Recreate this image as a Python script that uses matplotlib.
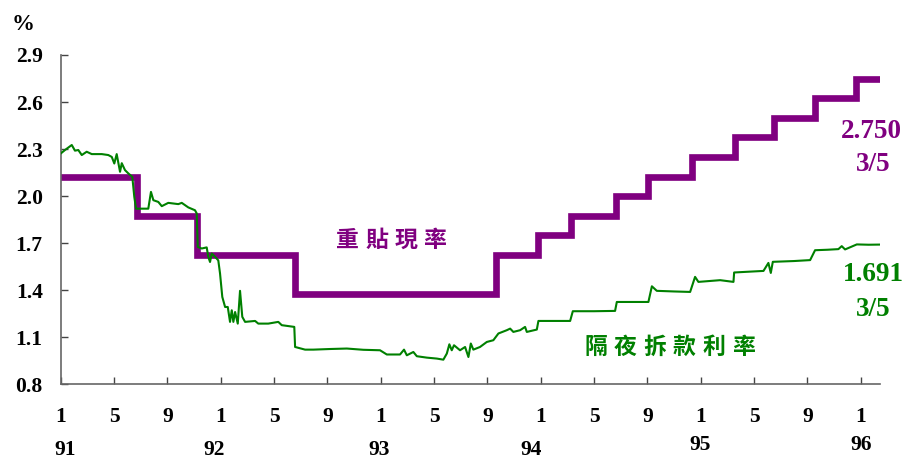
import numpy as np
import matplotlib
matplotlib.use("Agg")
import matplotlib.pyplot as plt
import matplotlib.transforms as mtransforms

# months counted from Jan 91 (ROC year)
disc_x = [0, 5.70, 10.19, 17.56, 32.68, 35.80, 38.31, 41.65, 44.05, 47.38, 50.55, 53.47, 56.55, 59.62, 61.45]
disc_y = [2.125, 1.875, 1.625, 1.375, 1.625, 1.75, 1.875, 2.0, 2.125, 2.25, 2.375, 2.5, 2.625, 2.75, 2.75]

ovn_x = [0.02, 0.32, 0.83, 1.07, 1.32, 1.58, 1.95, 2.33, 3.08, 3.57, 3.83, 4.02, 4.20, 4.45, 4.58,
         4.82, 5.07, 5.37, 5.52, 5.65, 6.08, 6.57, 6.77, 6.95, 7.32, 7.58, 8.07, 8.82, 9.08, 9.57,
         10.07, 10.20, 10.28, 10.58, 10.95, 11.07, 11.20, 11.33, 11.58, 11.82, 11.95, 12.12, 12.33,
         12.53, 12.70, 12.83, 12.95, 13.08, 13.28, 13.45, 13.62, 13.83, 14.58, 14.82, 15.57, 16.32,
         16.58, 17.52, 17.58, 18.33, 18.95, 20.2, 21.46, 22.7, 23.95, 24.46, 25.45, 25.75, 25.96,
         26.45, 26.71, 27.46, 28.21, 28.70, 28.96, 29.15, 29.33, 29.50, 29.95, 30.33, 30.58, 30.76,
         30.95, 31.45, 31.96, 32.45, 32.83, 33.46, 33.71, 33.95, 34.46, 34.83, 34.96, 35.71, 35.83,
         37.0, 38.21, 38.41, 40.0, 41.58, 41.71, 43.0, 44.08, 44.34, 44.71, 46.0, 47.21, 47.58,
         47.83, 49.46, 50.46, 50.51, 51.6, 52.71, 53.08, 53.26, 53.41, 55.0, 56.21, 56.58, 57.5,
         58.33, 58.58, 58.83, 59.71, 60.6, 61.45]
ovn_y = [2.273, 2.294, 2.326, 2.29, 2.294, 2.262, 2.283, 2.268, 2.268, 2.262, 2.25, 2.208, 2.268,
         2.155, 2.21, 2.166, 2.145, 2.123, 1.995, 1.92, 1.92, 1.92, 2.027, 1.974, 1.963, 1.936,
         1.957, 1.949, 1.957, 1.928, 1.91, 1.89, 1.676, 1.666, 1.673, 1.613, 1.58, 1.634, 1.613,
         1.59, 1.507, 1.357, 1.293, 1.293, 1.198, 1.272, 1.198, 1.261, 1.187, 1.396, 1.23, 1.198,
         1.204, 1.187, 1.187, 1.198, 1.177, 1.166, 1.038, 1.021, 1.021, 1.025, 1.028, 1.02, 1.017,
         0.99, 0.99, 1.021, 0.985, 1.006, 0.979, 0.97, 0.964, 0.957, 0.996, 1.055, 1.017, 1.049,
         1.017, 1.038, 0.974, 1.06, 1.021, 1.038, 1.07, 1.081, 1.124, 1.145, 1.155, 1.134, 1.145,
         1.166, 1.134, 1.149, 1.204, 1.204, 1.204, 1.266, 1.266, 1.268, 1.325, 1.325, 1.325, 1.425,
         1.396, 1.392, 1.389, 1.485, 1.453, 1.464, 1.453, 1.513, 1.518, 1.523, 1.574, 1.51, 1.581,
         1.586, 1.592, 1.655, 1.658, 1.662, 1.681, 1.66, 1.692, 1.69, 1.691]

tick_pos = list(range(0, 61, 4))
tick_lab = ['1', '5', '9'] * 5 + ['1']
year_lab = ['91', '92', '93', '94', '95', '96']
year_pos = [0.3, 11.48, 23.88, 35.27, 47.97, 60.0]   # labels sit a bit off the Jan ticks

purple = '#800080'
green = '#008000'
serif = ['Liberation Serif', 'DejaVu Serif']
cjk = ['Noto Sans CJK TC', 'DejaVu Sans']

fig = plt.figure(figsize=(9.06, 4.61), dpi=100)
ax = fig.add_axes([0.0670, 0.1664, 0.9043, 0.7143])

ax.step(disc_x, disc_y, where='post', color=purple, lw=4.8, solid_joinstyle='miter', zorder=2)
ax.plot(ovn_x, ovn_y, color=green, lw=1.5, zorder=3)

ax.set_xlim(0, 61.45)
ax.set_ylim(0.8, 2.9)
for s in ['top', 'right']:
    ax.spines[s].set_visible(False)
for s in ['left', 'bottom']:
    ax.spines[s].set_color('#666666')
    ax.spines[s].set_linewidth(1.2)

ax.set_yticks(np.arange(0.8, 2.91, 0.3))
ax.set_yticklabels(['%.1f' % v for v in np.arange(0.8, 2.91, 0.3)],
                   fontfamily=serif, fontweight='bold', fontsize=15.5)
ax.set_xticks(tick_pos)
ax.set_xticklabels(tick_lab, fontfamily=serif, fontweight='bold', fontsize=15.5)
ax.tick_params(axis='y', direction='in', length=4.8, width=1, color='#444444', pad=13)
ax.tick_params(axis='x', direction='in', length=4.8, width=1, color='#444444', pad=16.5)

trans = mtransforms.blended_transform_factory(ax.transData, ax.transAxes)
for p, l in zip(year_pos, year_lab):
    yy = -0.183 if l in ('95', '96') else -0.2
    ax.text(p, yy, l, transform=trans, ha='center', va='center',
            fontfamily=serif, fontweight='bold', fontsize=15.5)

fig.text(22.7 / 906, 1 - 24 / 461, '%', ha='center', va='center',
         fontfamily=serif, fontweight='bold', fontsize=16.5)

ax.text(60.84, 2.411, '2.750', color=purple, ha='center', va='center',
        fontfamily=serif, fontweight='bold', fontsize=19.5, clip_on=False)
ax.text(60.94, 2.20, '3/5', color=purple, ha='center', va='center',
        fontfamily=serif, fontweight='bold', fontsize=19.5, clip_on=False)
ax.text(60.94, 1.497, '1.691', color=green, ha='center', va='center',
        fontfamily=serif, fontweight='bold', fontsize=19.5, clip_on=False)
ax.text(60.94, 1.274, '3/5', color=green, ha='center', va='center',
        fontfamily=serif, fontweight='bold', fontsize=19.5, clip_on=False)

# spaced-out chinese series labels
for i, ch in enumerate('重貼現率'):
    ax.text(21.52 + i * 2.176, 1.72, ch, color=purple, ha='center', va='center',
            fontfamily=cjk, fontweight='bold', fontsize=16.5)
for i, ch in enumerate('隔夜拆款利率'):
    ax.text(40.12 + i * 2.213, 1.036, ch, color=green, ha='center', va='center',
            fontfamily=cjk, fontweight='bold', fontsize=16.5)

fig.savefig('out.png', dpi=100)
